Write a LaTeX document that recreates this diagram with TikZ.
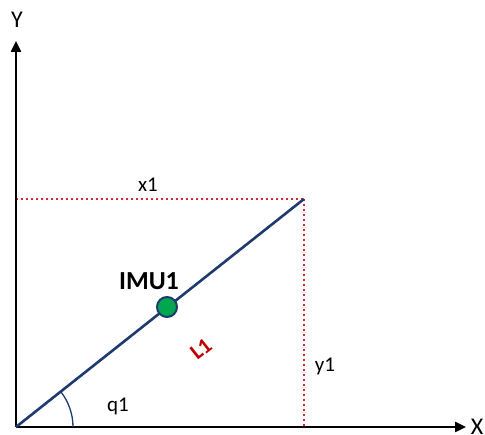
\documentclass[tikz,border=0pt]{standalone}
\usepackage{fontspec}
\setmainfont{Carlito}
\usetikzlibrary{arrows.meta}
\definecolor{navy}{HTML}{1F3A6E}
\definecolor{dotred}{HTML}{D9262B}
\definecolor{lred}{HTML}{C00000}
\definecolor{imugreen}{HTML}{00A650}
\tikzset{
  axis/.style={line width=2.4pt, -{Triangle[length=11pt,width=10pt]}},
  guide/.style={dotred, line width=2.6pt, dash pattern=on 2.4pt off 2.6pt},
  link/.style={navy, line width=2.6pt},
  lbl/.style={font=\fontsize{21}{24}\selectfont, inner sep=0pt}
}
\begin{document}
\begin{tikzpicture}[x=1pt,y=-1pt]
\useasboundingbox (0,0) rectangle (485,435);
\coordinate (O) at (16,427);
\coordinate (Ytop) at (16,41);
\coordinate (Xend) at (466,427);
\coordinate (P) at (304,199);
\coordinate (Py) at (16,199);
\coordinate (Px) at (304,427);
\draw[guide] (Py) -- (P);
\draw[guide] (P) -- (Px);
\draw[axis] (O) -- (Ytop);
\draw[axis] (O) -- (Xend);
\draw[link] (O) -- (P);
\draw[navy, line width=1.3pt] (73,427) arc[start angle=0, end angle=-38.3, radius=57];
\node[circle, fill=imugreen, draw=navy, line width=2pt, minimum size=20pt, inner sep=0pt] (imu) at (167,307) {};
\node[font=\fontsize{26}{29}\selectfont\bfseries, inner sep=0pt] (imul) at (149,281) {IMU1};
\node[font=\fontsize{22}{25}\selectfont\bfseries, text=lred, rotate=38.3, inner sep=0pt] (l1) at (201,349) {L1};
\node[lbl] (x1) at (148,185) {x1};
\node[lbl] (y1) at (325,366) {y1};
\node[lbl] (q1) at (118,406) {q1};
\node[font=\fontsize{24}{27}\selectfont, inner sep=0pt] (Y) at (17,20) {Y};
\node[font=\fontsize{24}{27}\selectfont, inner sep=0pt] (X) at (477,427) {X};
\end{tikzpicture}
\end{document}
